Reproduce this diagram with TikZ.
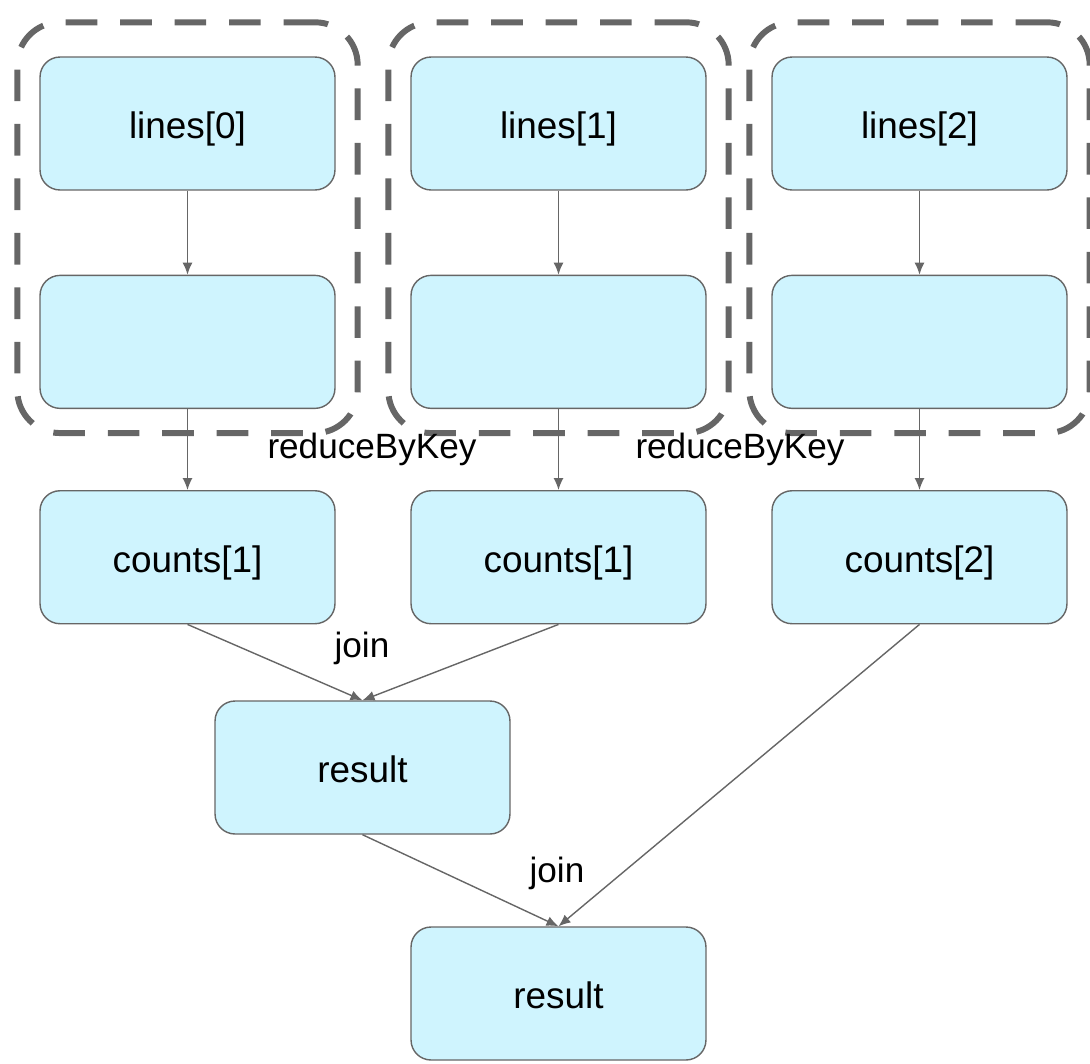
\documentclass[tikz,border=0pt]{standalone}
\usepackage{fontspec}
\setmainfont{Liberation Sans}
\usepackage{xcolor}
\usetikzlibrary{arrows.meta,positioning,fit,backgrounds}
\definecolor{boxfill}{HTML}{CFF4FE}
\definecolor{edgegray}{HTML}{666666}

\begin{document}
\begin{tikzpicture}[x=0.02cm,y=-0.02cm,
        blk/.style={draw=edgegray,fill=boxfill,rounded corners=0.4cm,minimum width=5.9cm,minimum height=2.66cm,line width=0.8pt,font=\fontsize{21}{25}\selectfont,text height=21.8pt,text depth=4.4pt},
        lbl/.style={font=\fontsize{20}{24}\selectfont},
        grp/.style={draw=edgegray,line width=3.4pt,dash pattern=on 18pt off 13pt,rounded corners=0.85cm,inner xsep=0.44cm,inner ysep=0.58cm,yshift=0.1cm},
        flow/.style={draw=edgegray,line width=0.8pt,-{Latex[length=2.4mm,width=2mm]}}]
        \useasboundingbox (0,0) rectangle (1090,1063);
        %nodes
        \node[blk] (l0) at (187.5,123.5) {lines[0]};
        \node[blk] (l1) at (558.5,123.5) {lines[1]};
        \node[blk] (l2) at (919.5,123.5) {lines[2]};
        \node[blk,below=1.68cm of l0] (m0) {};
        \node[blk,below=1.68cm of l1] (m1) {};
        \node[blk,below=1.68cm of l2] (m2) {};
        \node[blk,below=1.62cm of m0] (c0) {counts[1]};
        \node[blk,below=1.62cm of m1] (c1) {counts[1]};
        \node[blk,below=1.62cm of m2] (c2) {counts[2]};
        \node[blk] (r0) at (362.5,767.5) {result};
        \node[blk] (r1) at (558.5,993.5) {result};

        %groups
        \begin{scope}[on background layer]
            \node[grp,fit=(l0)(m0)] (g0) {};
            \node[grp,fit=(l1)(m1)] (g1) {};
            \node[grp,fit=(l2)(m2)] (g2) {};
        \end{scope}

        %labels
        \node[lbl] (rbk0) at (372,449) {reduceByKey};
        \node[lbl] (rbk1) at (740,449) {reduceByKey};
        \node[lbl] (j0) at (362,648) {join};
        \node[lbl] (j1) at (557,873) {join};

        %edges
        \foreach \i in {0,1,2}{
            \draw[flow] (l\i) -- (m\i);
            \draw[flow] (m\i) -- (c\i);
        }
        \draw[flow] (c0.south) -- (r0.north);
        \draw[flow] (c1.south) -- (r0.north);
        \draw[flow] (c2.south) -- (r1.north);
        \draw[flow] (r0.south) -- (r1.north);
\end{tikzpicture}
\end{document}
